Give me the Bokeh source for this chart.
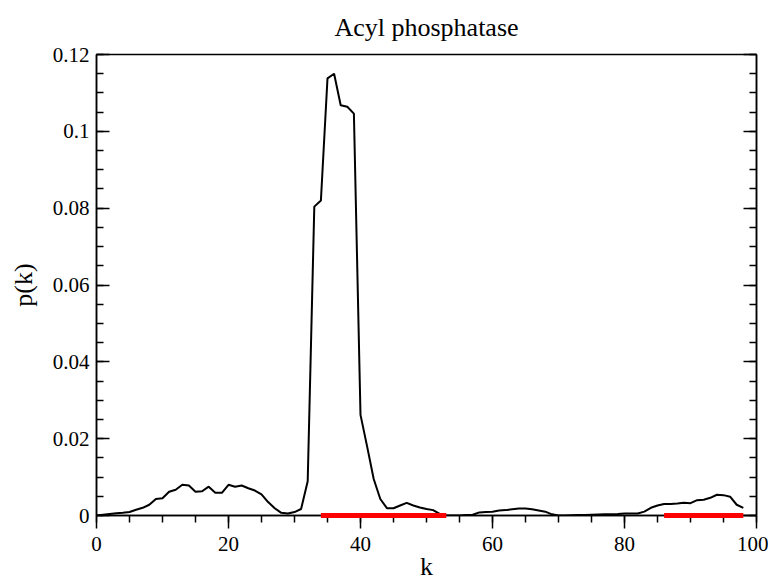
from bokeh.plotting import figure
from bokeh.models import (LinearAxis, SingleIntervalTicker, CustomJSTickFormatter, Range1d)
from bokeh.embed import file_html
from bokeh.resources import INLINE

# Data
k = list(range(0, 99))
p_k_milli = [
    0.0, 0.2, 0.4, 0.6, 0.7, 0.9, 1.5, 2.0, 2.8, 4.3,
    4.5, 6.2, 6.7, 8.0, 7.8, 6.2, 6.3, 7.5, 5.9, 5.9,
    8.0, 7.5, 7.8, 7.1, 6.5, 5.5, 3.5, 1.9, 0.7, 0.5,
    0.9, 1.7, 8.9, 80.4, 82.0, 113.8, 115.0, 106.8, 106.4, 104.6,
    26.2, 18.0, 9.5, 4.3, 1.9, 1.9, 2.6, 3.3, 2.6, 2.1,
    1.7, 1.4, 0.4, 0.0, 0.0, 0.0, 0.1, 0.2, 0.8, 0.9,
    1.0, 1.3, 1.4, 1.6, 1.8, 1.8, 1.6, 1.3, 1.0, 0.3,
    0.0, 0.0, 0.05, 0.1, 0.15, 0.2, 0.25, 0.3, 0.35, 0.4,
    0.5, 0.5, 0.5, 1.0, 2.0, 2.6, 3.0, 3.0, 3.1, 3.3,
    3.2, 4.0, 4.1, 4.6, 5.4, 5.3, 4.9, 2.8, 2.0,
]
p_k = [v / 1000.0 for v in p_k_milli]

segment_start = [34, 86]
segment_end = [53, 98]
segment_y = [0.0, 0.0]

title_text = "Acyl phosphatase"
x_label = "k"
y_label = "p(k)"

FONT = "Liberation Serif"

p = figure(width=768, height=583,
           x_range=Range1d(0, 100), y_range=Range1d(0, 0.12),
           output_backend="svg", toolbar_location=None,
           title=title_text, x_axis_label=x_label, y_axis_label=y_label,
           min_border_left=96, min_border_top=54, min_border_right=12,
           min_border_bottom=66)

p.grid.visible = False
p.background_fill_color = "white"
p.border_fill_color = "white"
p.outline_line_color = "black"
p.outline_line_width = 1.5
p.outline_line_alpha = 1.0

p.title.text_font = FONT
p.title.text_font_size = "26px"
p.title.text_font_style = "normal"
p.title.align = "center"
p.title.vertical_align = "top"
p.title.text_color = "black"
p.title.standoff = 22

xt = SingleIntervalTicker(interval=20, num_minor_ticks=4)
yt = SingleIntervalTicker(interval=0.02, num_minor_ticks=4)
fmt = CustomJSTickFormatter(code="return String(parseFloat(tick.toFixed(4)));")

xa = p.xaxis[0]
xa.ticker = xt
xa.major_tick_in = 0
xa.major_tick_out = 13
xa.minor_tick_in = 0
xa.minor_tick_out = 7
xa.major_label_standoff = 8
xa.axis_label_standoff = -2

ya = p.yaxis[0]
ya.ticker = yt
ya.formatter = fmt
ya.major_tick_in = 13
ya.major_tick_out = 0
ya.minor_tick_in = 7
ya.minor_tick_out = 0
ya.major_label_standoff = 7
ya.axis_label_standoff = 12

for ax in (xa, ya):
    ax.axis_line_color = "black"
    ax.axis_line_width = 1.5
    ax.major_tick_line_color = "black"
    ax.major_tick_line_width = 1.5
    ax.minor_tick_line_color = "black"
    ax.minor_tick_line_width = 1.5
    ax.major_label_text_font = FONT
    ax.major_label_text_font_style = "normal"
    ax.major_label_text_font_size = "21px"
    ax.major_label_text_color = "black"
    ax.axis_label_text_font = FONT
    ax.axis_label_text_font_size = "26px"
    ax.axis_label_text_font_style = "normal"
    ax.axis_label_text_color = "black"

ra = LinearAxis(ticker=SingleIntervalTicker(interval=0.02, num_minor_ticks=4),
                formatter=CustomJSTickFormatter(code="return '';"))
ra.major_tick_in = 13
ra.major_tick_out = 0
ra.minor_tick_in = 7
ra.minor_tick_out = 0
ra.major_label_standoff = 0
ra.axis_line_color = "black"
ra.axis_line_width = 1.5
ra.major_tick_line_width = 1.5
ra.minor_tick_line_width = 1.5
p.add_layout(ra, "right")

p.line(k, p_k, line_color="black", line_width=2)
p.segment(x0=segment_start, y0=segment_y, x1=segment_end, y1=segment_y,
          line_color="#ff0000", line_width=5, level="overlay")

open("out.html", "w").write(file_html(p, INLINE))
